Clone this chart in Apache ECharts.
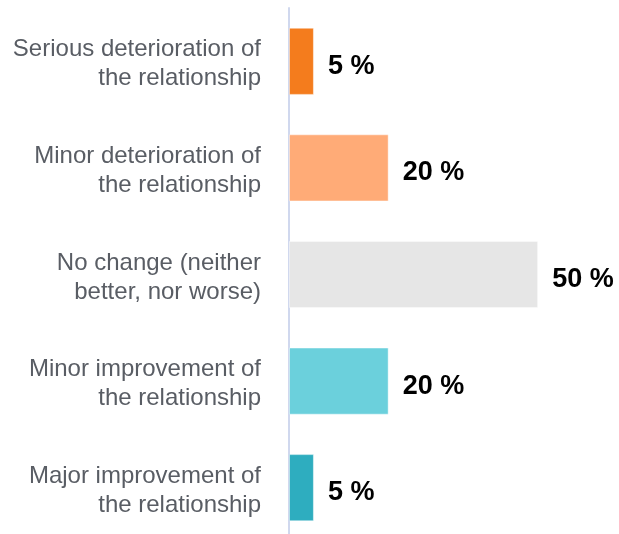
<!DOCTYPE html>
<html>
<head>
<meta charset="utf-8">
<script src="https://cdn.jsdelivr.net/npm/echarts@6/dist/echarts.min.js"></script>
<style>
  html, body { margin: 0; padding: 0; background: #ffffff; overflow: hidden; }
  #chart { width: 619px; height: 542px; }
</style>
</head>
<body>
<div id="chart"></div>
<script>
// Answer categories, top to bottom
const categories = [
  'Serious deterioration of\nthe relationship',
  'Minor deterioration of\nthe relationship',
  'No change (neither\nbetter, nor worse)',
  'Minor improvement of\nthe relationship',
  'Major improvement of\nthe relationship'
];
// Share of responses, percent
const shares = [5, 20, 50, 20, 5];
// One fill per answer, from deterioration (orange) to improvement (teal)
const barColors = ['#f47c1d', '#ffab77', '#e6e6e6', '#6bd0dc', '#2eadbf'];

const chart = echarts.init(document.getElementById('chart'), null, { renderer: 'canvas' });

chart.setOption({
  animation: false,
  grid: { left: 289, top: 8, width: 299, height: 533, containLabel: false },
  xAxis: {
    type: 'value',
    min: 0,
    max: 60,
    show: false
  },
  yAxis: {
    type: 'category',
    inverse: true,
    data: categories,
    axisLine: { show: true, lineStyle: { color: '#d0d8ee', width: 2 } },
    axisTick: { show: false },
    splitLine: { show: false },
    axisLabel: {
      margin: 28,
      color: '#595d64',
      fontFamily: 'Liberation Sans, Arial, sans-serif',
      fontSize: 24,
      lineHeight: 29,
      align: 'right',
      // a thin spacer line on top nudges the two text lines slightly downward
      formatter: (v) => '{gap|}\n' + v.split('\n').map((s) => '{t|' + s + '}').join('\n'),
      rich: {
        gap: { lineHeight: 6, fontSize: 6 },
        t: {
          color: '#595d64',
          fontFamily: 'Liberation Sans, Arial, sans-serif',
          fontSize: 24,
          lineHeight: 29,
          align: 'right'
        }
      }
    }
  },
  series: [{
    type: 'bar',
    data: shares.map((v, i) => ({ value: v, itemStyle: { color: barColors[i] } })),
    barCategoryGap: '37%',
    itemStyle: { borderColor: 'rgba(255,255,255,0.45)', borderWidth: 1 },
    label: {
      show: true,
      position: 'right',
      distance: 14,
      offset: [0, 5],
      formatter: '{c} %',
      color: '#000000',
      fontFamily: 'Liberation Sans, Arial, sans-serif',
      fontWeight: 'bold',
      fontSize: 27
    }
  }]
});
</script>
</body>
</html>
